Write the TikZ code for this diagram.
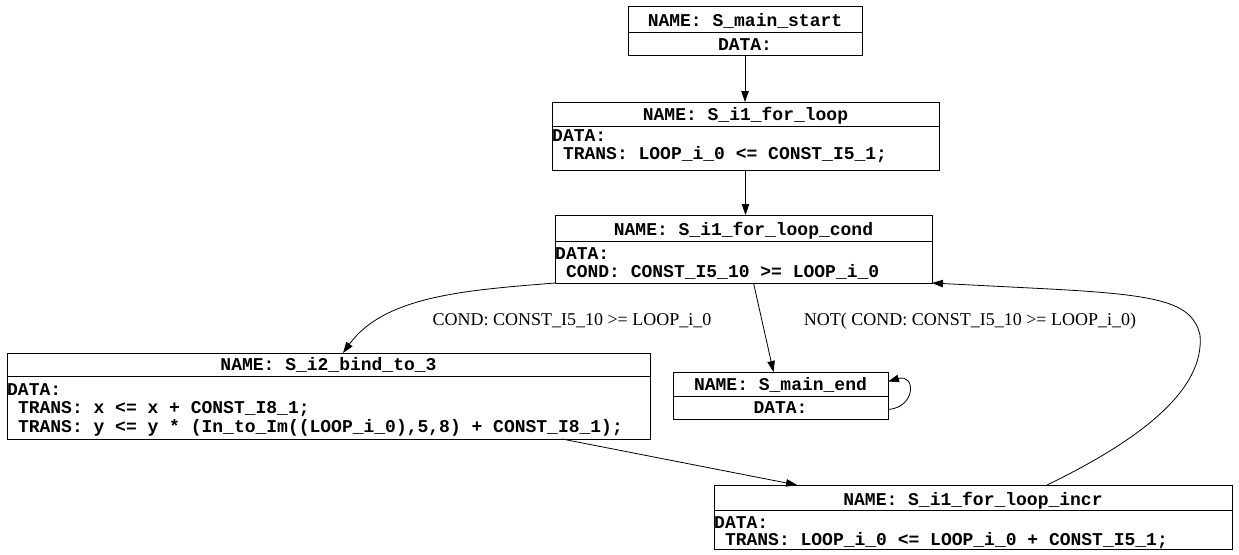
\documentclass[tikz,border=0pt]{standalone}
\usepackage{fontspec}
\setmainfont{Liberation Serif}
\setmonofont{Liberation Mono}
\usetikzlibrary{arrows.meta,calc}

\tikzset{
  state/.style={draw, line width=0.9pt, inner sep=0pt, outer sep=0pt},
  divider/.style={line width=0.9pt},
  head/.style={font=\ttfamily\bfseries\fontsize{18}{19}\selectfont, inner sep=0pt, anchor=base},
  body/.style={font=\ttfamily\bfseries\fontsize{18}{19}\selectfont, inner sep=0pt, anchor=base west},
  edge/.style={line width=0.8pt, -{Triangle[length=11pt,width=7.5pt]}},
  elabel/.style={font=\fontsize{18}{20}\selectfont, inner sep=0pt, anchor=base},
}

\begin{document}
\begin{tikzpicture}[x=1pt, y=-1pt]
\useasboundingbox (0,0) rectangle (1239,554);
\fill[white] (0,0) rectangle (1239,554);

% S_main_start
\node[state, minimum width=234pt, minimum height=49pt] (s1) at (745,30.5) {};
\draw[divider] (s1.west |- 0,32) -- (s1.east |- 0,32);
\node[head] (s1n) at (745,26) {NAME: S\_main\_start};
\node[head] (s1d) at (745,50) {DATA:};

% S_i1_for_loop
\node[state, minimum width=387pt, minimum height=68pt] (s2) at (745.5,136) {};
\draw[divider] (s2.west |- 0,126) -- (s2.east |- 0,126);
\node[head] (s2n) at (745.5,120) {NAME: S\_i1\_for\_loop};
\node[body] (s2d) at (552,141.5) {DATA:};
\node[body] (s2t) at (552,159) {\ TRANS: LOOP\_i\_0 <= CONST\_I5\_1;};

% S_i1_for_loop_cond
\node[state, minimum width=377pt, minimum height=68pt] (s3) at (743.5,249) {};
\draw[divider] (s3.west |- 0,241) -- (s3.east |- 0,241);
\node[head] (s3n) at (743.5,235) {NAME: S\_i1\_for\_loop\_cond};
\node[body] (s3d) at (555,259.5) {DATA:};
\node[body] (s3c) at (555,277) {\ COND: CONST\_I5\_10 >= LOOP\_i\_0};

% S_i2_bind_to_3
\node[state, minimum width=643pt, minimum height=86pt] (s4) at (328.5,396) {};
\draw[divider] (s4.west |- 0,376) -- (s4.east |- 0,376);
\node[head] (s4n) at (328.5,370) {NAME: S\_i2\_bind\_to\_3};
\node[body] (s4d) at (7,395) {DATA:};
\node[body] (s4t1) at (7,413.5) {\ TRANS: x <= x + CONST\_I8\_1;};
\node[body] (s4t2) at (7,432) {\ TRANS: y <= y * (In\_to\_Im((LOOP\_i\_0),5,8) + CONST\_I8\_1);};

% S_main_end
\node[state, minimum width=215pt, minimum height=47pt] (s5) at (780.5,395.5) {};
\draw[divider] (s5.west |- 0,396) -- (s5.east |- 0,396);
\node[head] (s5n) at (780.5,390) {NAME: S\_main\_end};
\node[head] (s5d) at (780.5,413) {DATA:};

% S_i1_for_loop_incr
\node[state, minimum width=518pt, minimum height=64pt] (s6) at (973,517) {};
\draw[divider] (s6.west |- 0,510) -- (s6.east |- 0,510);
\node[head] (s6n) at (973,505) {NAME: S\_i1\_for\_loop\_incr};
\node[body] (s6d) at (714,528) {DATA:};
\node[body] (s6t) at (714,545) {\ TRANS: LOOP\_i\_0 <= LOOP\_i\_0 + CONST\_I5\_1;};

% transitions
\draw[edge] (s1.south) -- (s1.south |- s2.north);
\draw[edge] (s2.south) -- (s2.south |- s3.north);
\draw[edge] (s3.south west) .. controls (470,290) and (385,295) .. ($(s4.north west)+(336,0)$);
\draw[edge] ($(s3.south)+(10,0)$) -- ($(s5.north)+(-7,0)$);
\draw[edge] ($(s5.east)+(0,14)$) .. controls ($(s5.east)+(28,12)$) and ($(s5.east)+(28,-22)$) .. ($(s5.east)+(0,-14)$);
\draw[edge] ($(s4.south east)+(-88,0)$) -- ($(s6.north west)+(83,0)$);
\draw[edge] ($(s6.north)+(74,0)$) .. controls (1140,440) and (1205,390) .. (1200,335)
  .. controls (1192,302) and (1160,295) .. (1050,289) -- (s3.south east);

% transition labels
\node[elabel] (l1) at (572,325) {COND: CONST\_I5\_10 >= LOOP\_i\_0};
\node[elabel] (l2) at (970,325) {NOT( COND: CONST\_I5\_10 >= LOOP\_i\_0)};
\end{tikzpicture}
\end{document}
